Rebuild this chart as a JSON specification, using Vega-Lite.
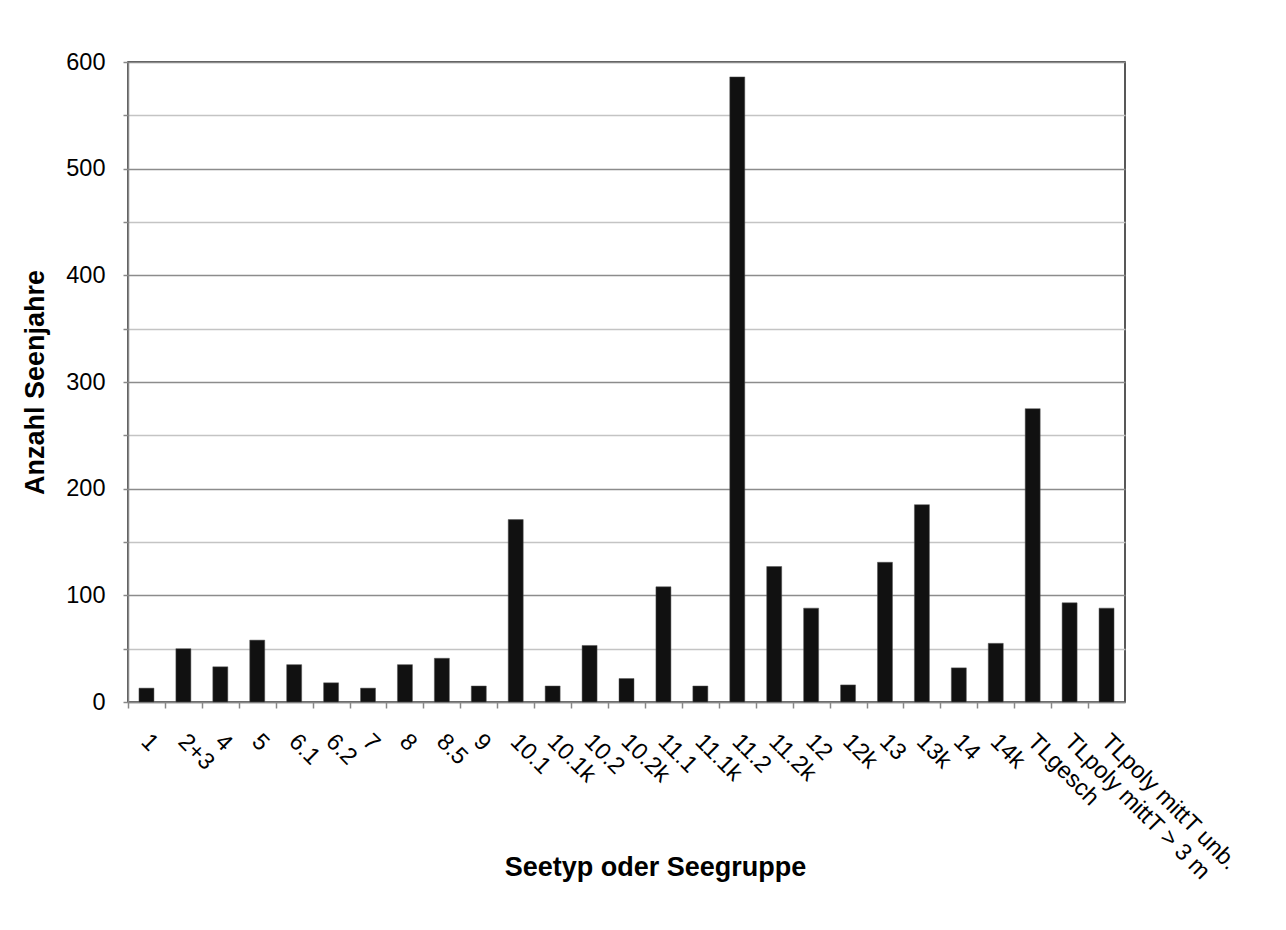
{
  "$schema": "https://vega.github.io/schema/vega-lite/v6.json",
  "width": 997,
  "height": 640,
  "autosize": {"type": "none"},
  "padding": {"left": 128, "top": 62, "right": 161, "bottom": 228},
  "background": "white",
  "data": {
    "values": [
      {"typ": "1", "n": 13},
      {"typ": "2+3", "n": 50},
      {"typ": "4", "n": 33},
      {"typ": "5", "n": 58},
      {"typ": "6.1", "n": 35},
      {"typ": "6.2", "n": 18},
      {"typ": "7", "n": 13},
      {"typ": "8", "n": 35},
      {"typ": "8.5", "n": 41},
      {"typ": "9", "n": 15},
      {"typ": "10.1", "n": 171},
      {"typ": "10.1k", "n": 15},
      {"typ": "10.2", "n": 53},
      {"typ": "10.2k", "n": 22},
      {"typ": "11.1", "n": 108},
      {"typ": "11.1k", "n": 15},
      {"typ": "11.2", "n": 586},
      {"typ": "11.2k", "n": 127},
      {"typ": "12", "n": 88},
      {"typ": "12k", "n": 16},
      {"typ": "13", "n": 131},
      {"typ": "13k", "n": 185},
      {"typ": "14", "n": 32},
      {"typ": "14k", "n": 55},
      {"typ": "TLgesch", "n": 275},
      {"typ": "TLpoly mittT > 3 m", "n": 93},
      {"typ": "TLpoly mittT unb.", "n": 88}
    ]
  },
  "mark": {"type": "bar", "color": "#111111", "stroke": "#555555", "strokeWidth": 0.5},
  "encoding": {
    "x": {
      "field": "typ",
      "type": "nominal",
      "sort": null,
      "scale": {"paddingInner": 0.594, "paddingOuter": 0.297},
      "axis": {
        "title": "Seetyp oder Seegruppe",
        "titleFont": "Liberation Sans",
        "titleFontSize": 27,
        "titleFontWeight": "bold",
        "titleColor": "#000000",
        "titleBaseline": "alphabetic",
        "titleX": 527,
        "titleY": 173,
        "labelAngle": 45,
        "labelAlign": "left",
        "labelBaseline": "top",
        "labelFont": "Liberation Sans",
        "labelFontSize": 23.5,
        "labelColor": "#000000",
        "labelPadding": 21,
        "labelOverlap": false,
        "labelLimit": 400,
        "tickOffset": -18.463,
        "labelOffset": 25,
        "tickColor": "#888888",
        "tickSize": 6,
        "tickWidth": 1.5,
        "domainColor": "#888888",
        "domainWidth": 1.5
      }
    },
    "y": {
      "field": "n",
      "type": "quantitative",
      "scale": {"domain": [0, 600], "nice": false},
      "axis": {
        "title": "Anzahl Seenjahre",
        "titleFont": "Liberation Sans",
        "titleFontSize": 27,
        "titleFontWeight": "bold",
        "titleColor": "#000000",
        "titlePadding": 16,
        "values": [0, 50, 100, 150, 200, 250, 300, 350, 400, 450, 500, 550, 600],
        "labelExpr": "datum.value % 100 === 0 ? datum.label : ''",
        "labelFont": "Liberation Sans",
        "labelFontSize": 23.5,
        "labelColor": "#000000",
        "labelPadding": 18,
        "tickColor": "#888888",
        "tickSize": 5,
        "tickWidth": 1.5,
        "domainColor": "#888888",
        "domainWidth": 1.5,
        "grid": true,
        "gridColor": {"condition": {"test": "datum.value % 100 === 0", "value": "#8c8c8c"}, "value": "#c4c4c4"},
        "gridWidth": 1.3
      }
    }
  },
  "config": {
    "view": {"stroke": "#222222", "strokeWidth": 1.5},
    "axis": {"zindex": 1}
  }
}
